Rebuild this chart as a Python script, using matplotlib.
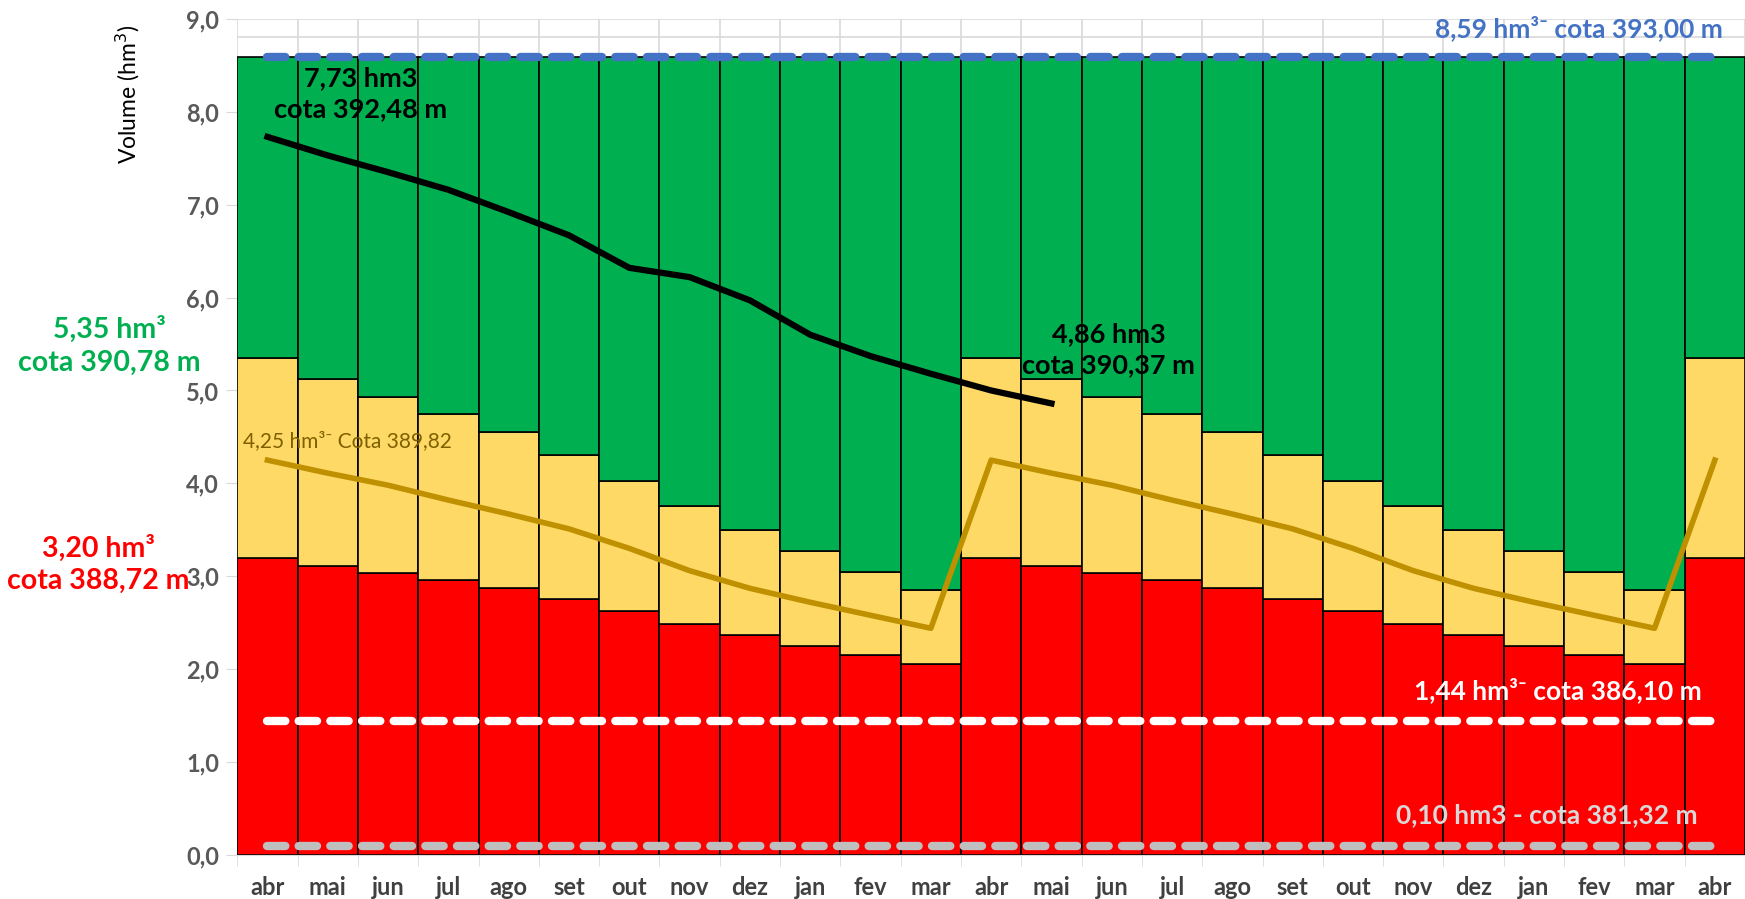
import numpy as np
import matplotlib
matplotlib.use("Agg")
from matplotlib import pyplot as plt

plt.rcParams['font.family'] = ['Lato', 'DejaVu Sans']

# data
months = ["abr", "mai", "jun", "jul", "ago", "set", "out", "nov", "dez", "jan", "fev", "mar",
          "abr", "mai", "jun", "jul", "ago", "set", "out", "nov", "dez", "jan", "fev", "mar",
          "abr"]
red_top = [3.20, 3.11, 3.04, 2.96, 2.87, 2.76, 2.63, 2.49, 2.37, 2.25, 2.15, 2.06,
           3.20, 3.11, 3.04, 2.96, 2.87, 2.76, 2.63, 2.49, 2.37, 2.25, 2.15, 2.06,
           3.20]
yellow_top = [5.35, 5.12, 4.93, 4.75, 4.55, 4.31, 4.03, 3.76, 3.50, 3.27, 3.05, 2.85,
              5.35, 5.12, 4.93, 4.75, 4.55, 4.31, 4.03, 3.76, 3.50, 3.27, 3.05, 2.85,
              5.35]
full_vol = 8.59
observed = [7.73, 7.53, 7.35, 7.16, 6.92, 6.67, 6.32, 6.22, 5.97, 5.60, 5.37, 5.18,
            5.00, 4.86]
curve_mid = [4.25, 4.11, 3.98, 3.82, 3.67, 3.51, 3.30, 3.06, 2.87, 2.72, 2.58, 2.44,
             4.25, 4.11, 3.98, 3.82, 3.67, 3.51, 3.30, 3.06, 2.87, 2.72, 2.58, 2.44,
             4.25]
level_max = 8.59
level_min_op = 1.44
level_dead = 0.10

x = np.arange(len(months))
red_top = np.array(red_top)
yellow_top = np.array(yellow_top)

fig = plt.figure(figsize=(17.45, 8.99), dpi=100)
ax = fig.add_axes([0.136, 0.049, 0.864, 0.930])

ax.bar(x, red_top, width=1.0, color="#FF0000", edgecolor="black", linewidth=1.2, zorder=2)
ax.bar(x, yellow_top - red_top, bottom=red_top, width=1.0, color="#FFD966",
       edgecolor="black", linewidth=1.2, zorder=2)
ax.bar(x, full_vol - yellow_top, bottom=yellow_top, width=1.0, color="#00B050",
       edgecolor="black", linewidth=1.2, zorder=2)

ax.plot(x, curve_mid, color="#BF9000", lw=4, zorder=4)
ax.plot(x[:len(observed)], observed, color="black", lw=4.5, zorder=5)

dash = dict(lw=6, linestyle=(0, (2.2, 1.6)), dash_capstyle="round", zorder=6)
ax.plot([x[0], x[-1]], [level_max] * 2, color="#4472C4", **dash)
ax.plot([x[0], x[-1]], [level_min_op] * 2, color="white", **dash)
ax.plot([x[0], x[-1]], [level_dead] * 2, color="#BFBFBF", **dash)

ax.set_xlim(-0.5, len(months) - 0.5)
ax.set_ylim(0, 9)
ax.set_yticks(np.arange(0, 9.1, 1.0))
ax.set_yticklabels([f"{v:.1f}".replace(".", ",") for v in np.arange(0, 9.1, 1.0)])
ax.set_xticks(x)
ax.set_xticklabels(months)
ax.set_xticks(np.arange(-0.5, len(months), 1.0), minor=True)

ax.grid(axis="y", color="#D9D9D9", lw=1.2, zorder=0)
ax.grid(axis="x", which="minor", color="#D9D9D9", lw=1.2, zorder=0)
ax.axhline(8.81, color="#D9D9D9", lw=1.2, zorder=0)
for s in ["top", "right", "left"]:
    ax.spines[s].set_visible(False)
ax.spines["bottom"].set_color("#D9D9D9")
ax.tick_params(axis="x", which="major", length=0, pad=15, labelsize=17, labelcolor="#404040")
ax.tick_params(axis="x", which="minor", length=8, color="#D9D9D9")
ax.tick_params(axis="y", length=8, color="#D9D9D9", labelsize=17, labelcolor="#595959", pad=5)
for lab in ax.get_xticklabels() + ax.get_yticklabels():
    lab.set_fontweight("bold")

ax.text(-2.31, 8.19, "Volume (hm$^3$)", rotation=90, ha="center", va="center",
        fontsize=16.5, color="black", clip_on=False)

ax.text(1.55, 8.19, "7,73 hm3\ncota 392,48 m", ha="center", va="center", fontsize=19.5,
        fontweight="bold", color="black", linespacing=1.35, zorder=7)
ax.text(13.95, 5.44, "4,86 hm3\ncota 390,37 m", ha="center", va="center", fontsize=19.5,
        fontweight="bold", color="black", linespacing=1.35, zorder=7)
ax.text(-2.62, 5.48, "5,35 hm³\ncota 390,78 m", ha="center", va="center", fontsize=20.5,
        fontweight="bold", color="#00B050", linespacing=1.3, clip_on=False)
ax.text(-2.81, 3.13, "3,20 hm³\ncota 388,72 m", ha="center", va="center", fontsize=20.5,
        fontweight="bold", color="#FF0000", linespacing=1.3, clip_on=False)
ax.text(-0.41, 4.46, "4,25 hm³⁻ Cota 389,82", ha="left", va="center", fontsize=15,
        color="#7F6000", zorder=7)
ax.text(24.13, 8.90, "8,59 hm³⁻ cota 393,00 m", ha="right", va="center", fontsize=19,
        fontweight="bold", color="#4472C4", zorder=7)
ax.text(23.78, 1.77, "1,44 hm³⁻ cota 386,10 m", ha="right", va="center", fontsize=19,
        fontweight="bold", color="white", zorder=7)
ax.text(23.72, 0.43, "0,10 hm3 - cota 381,32 m", ha="right", va="center", fontsize=19,
        fontweight="bold", color="#D9D9D9", zorder=7)

fig.savefig("out.png", dpi=100)
